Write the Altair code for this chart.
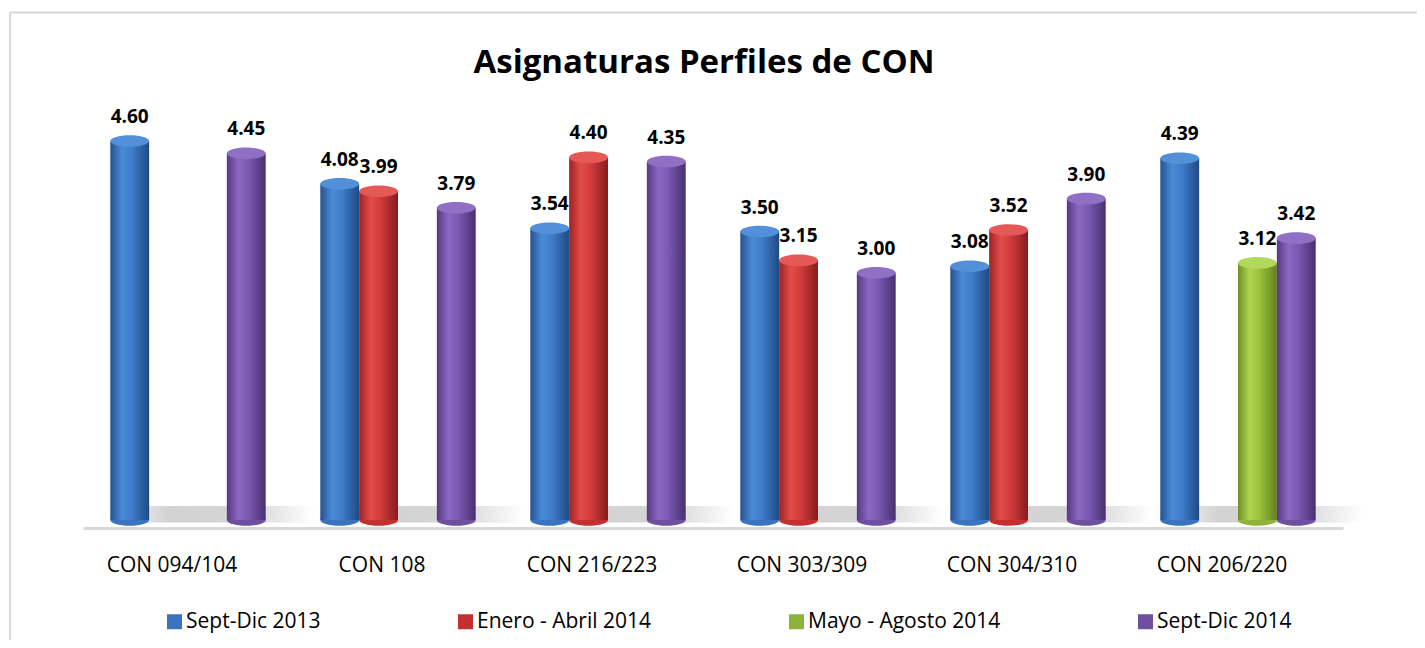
import altair as alt
import pandas as pd

categories = ["CON 094/104", "CON 108", "CON 216/223", "CON 303/309", "CON 304/310", "CON 206/220"]
series = ["Sept-Dic 2013", "Enero - Abril 2014", "Mayo - Agosto 2014", "Sept-Dic 2014"]
sept_dic_2013 = [4.60, 4.08, 3.54, 3.50, 3.08, 4.39]
enero_abril_2014 = [None, 3.99, 4.40, 3.15, 3.52, None]
mayo_agosto_2014 = [None, None, None, None, None, 3.12]
sept_dic_2014 = [4.45, 3.79, 4.35, 3.00, 3.90, 3.42]

values_by_series = [sept_dic_2013, enero_abril_2014, mayo_agosto_2014, sept_dic_2014]
rows = []
for s, vals in zip(series, values_by_series):
    for c, v in zip(categories, vals):
        if v is not None:
            rows.append({"cat": c, "serie": s, "value": v})
df = pd.DataFrame(rows)
floor_df = pd.DataFrame({"cat": categories, "ftop": [0.17] * 6, "fbot": [-0.03] * 6})

mid_colors = ["#3a73c0", "#c3302f", "#8eb23a", "#6f4f9f"]
grad_stops = [
    ["#25528f", "#4a8ad6", "#3f7dcc", "#1f4a82"],
    ["#9e2226", "#e24c49", "#d13b3a", "#861c20"],
    ["#6f8f24", "#b0d650", "#9cc23e", "#62801e"],
    ["#563883", "#8c68c2", "#7b59b1", "#482f70"],
]
top_colors = ["#5290da", "#e45955", "#b2d85c", "#9070c4"]

W, H = 1260, 412
ELL = "M -1 0 A 1 0.3 0 1 0 1 0 A 1 0.3 0 1 0 -1 0 Z"
BAR_W = 38.85
ESIZE = BAR_W * BAR_W

x_enc = alt.X("cat:N", sort=categories,
              scale=alt.Scale(domain=categories, paddingInner=0.26, paddingOuter=0.13),
              axis=alt.Axis(title=None, labelAngle=0, labelFont="Open Sans", labelFontSize=21,
                            labelColor="black", ticks=False, tickSize=0, domainColor="#d9d9d9",
                            domainWidth=3, offset=8, labelPadding=26, labelOffset=-16, grid=False))
xo_enc = alt.XOffset("serie:N", scale=alt.Scale(domain=series, paddingInner=0, paddingOuter=0))
yscale = alt.Scale(domain=[0, 5])
y_enc = alt.Y("value:Q", scale=yscale, axis=None, stack=None)


def lin(stops):
    return alt.LinearGradient(
        gradient="linear", x1=0, x2=1, y1=0, y2=0,
        stops=[alt.GradientStop(color=stops[0], offset=0),
               alt.GradientStop(color=stops[1], offset=0.3),
               alt.GradientStop(color=stops[2], offset=0.55),
               alt.GradientStop(color=stops[3], offset=1)])


shadow = alt.Chart(floor_df).mark_bar(
    width=205, xOffset=22, opacity=1, strokeWidth=0,
    fill=alt.LinearGradient(gradient="linear", x1=0, x2=1, y1=0, y2=0,
                            stops=[alt.GradientStop(color="#ffffff", offset=0),
                                   alt.GradientStop(color="#d2d2d2", offset=0.3),
                                   alt.GradientStop(color="#d6d6d6", offset=0.7),
                                   alt.GradientStop(color="#ffffff", offset=1)])
).encode(x=x_enc, y=alt.Y("ftop:Q", scale=yscale, axis=None, stack=None), y2="fbot:Q")

bottoms = alt.Chart(df).mark_point(filled=True, shape=ELL, size=ESIZE, opacity=1, strokeWidth=0).encode(
    x=x_enc, xOffset=xo_enc, y=alt.Y("zero:Q", scale=yscale, axis=None),
    color=alt.Color("serie:N", scale=alt.Scale(domain=series, range=mid_colors),
                    legend=alt.Legend(title=None, orient="none", legendX=81, legendY=503,
                                      direction="horizontal", symbolType="square", symbolSize=225,
                                      symbolStrokeWidth=0, symbolOpacity=1, labelFont="Open Sans",
                                      labelFontSize=21, labelColor="black", labelLimit=400,
                                      columnPadding=134, labelOffset=1, padding=0))
).transform_calculate(zero="0")

layers = [shadow, bottoms]
for i, s in enumerate(series):
    base = alt.Chart(df).transform_filter(alt.datum.serie == s)
    bar = base.mark_bar(fill=lin(grad_stops[i]), opacity=1, strokeWidth=0).encode(
        x=x_enc, xOffset=xo_enc, y=y_enc)
    top = base.mark_point(filled=True, shape=ELL, size=ESIZE, opacity=1, strokeWidth=0,
                          fill=top_colors[i]).encode(x=x_enc, xOffset=xo_enc, y=y_enc)
    layers += [bar, top]

labels = alt.Chart(df).mark_text(font="Open Sans", fontSize=19, fontWeight="bold", color="black",
                                 baseline="alphabetic", dy=-18).encode(
    x=x_enc, xOffset=xo_enc, y=y_enc, text=alt.Text("value:Q", format=".2f"))
layers.append(labels)

one = pd.DataFrame({"a": [0]})
frame_top = alt.Chart(one).mark_rule(color="#d9d9d9", strokeWidth=2).encode(
    x=alt.value(-73), x2=alt.value(1334), y=alt.value(-95.5))
frame_left = alt.Chart(one).mark_rule(color="#d9d9d9", strokeWidth=2).encode(
    x=alt.value(-73), y=alt.value(-95.5), y2=alt.value(532))
layers += [frame_top, frame_left]

chart = alt.layer(*layers).properties(
    width=W, height=H,
    title=alt.Title("Asignaturas Perfiles de CON", font="Open Sans", fontSize=33, fontWeight="bold",
                    color="black", anchor="middle", baseline="alphabetic", offset=-94.5, dx=-9),
    autosize=alt.AutoSizeParams(type="none"),
    padding={"left": 75, "top": 100, "right": 74, "bottom": 120},
).configure_view(stroke=None).resolve_scale(color="shared")

chart.save("out.html", embed_options={"renderer": "svg", "actions": False})
